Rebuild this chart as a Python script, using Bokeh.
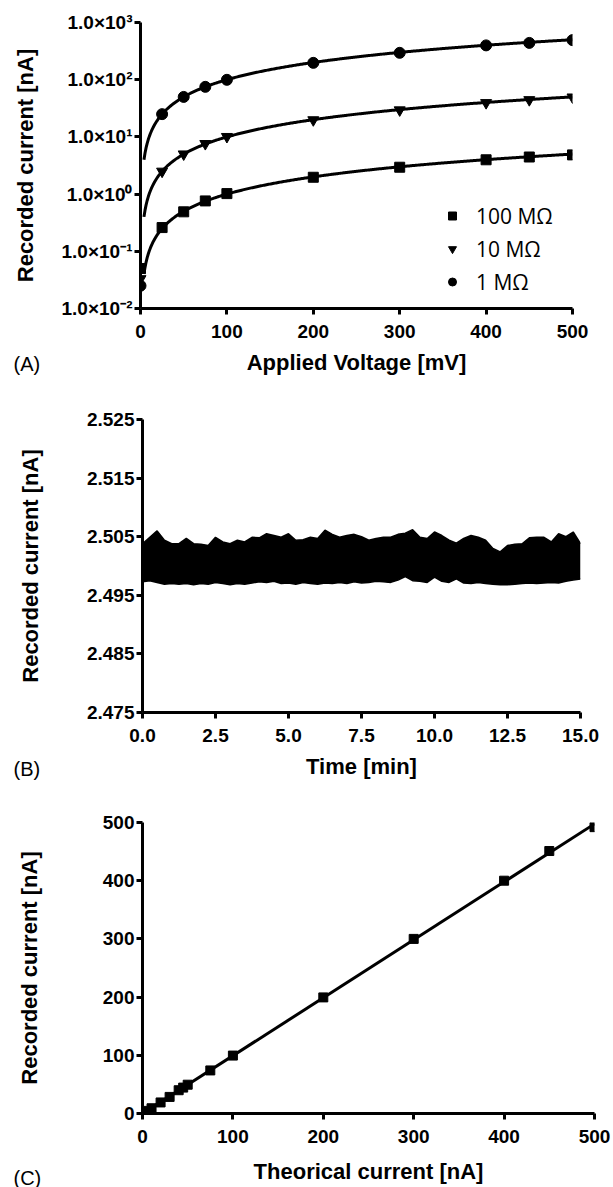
from bokeh.plotting import figure
from bokeh.layouts import column
from bokeh.models import (Range1d, FixedTicker, Label, Legend, LegendItem,
                          NumeralTickFormatter, ColumnDataSource)
from bokeh.embed import file_html
from bokeh.resources import INLINE
import numpy as np

FONT = "Liberation Sans"

# ---------------- Panel A data ----------------
voltage_mv = [0, 25, 50, 75, 100, 200, 300, 400, 450, 500]
current_100M = [0.05, 0.26, 0.49, 0.76, 1.02, 1.97, 2.95, 3.98, 4.45, 4.85]
current_10M = [0.033, 2.5, 5.0, 7.6, 10.1, 19.8, 29.5, 39.5, 44.5, 49.5]
current_1M = [0.025, 25.0, 50.0, 75.0, 99.5, 197.0, 295.0, 398.0, 440.0, 492.0]
resistances_mohm = [100, 10, 1]
legend_labels = ["100 MΩ", "10 MΩ", "1 MΩ"]
a_yticks = [0.01, 0.1, 1, 10, 100, 1000]
a_ytick_labels = ["1.0×10⁻²", "1.0×10⁻¹", "1.0×10⁰", "1.0×10¹", "1.0×10²", "1.0×10³"]
a_xticks = [0, 100, 200, 300, 400, 500]

# ---------------- Panel B data (envelope of the recorded trace) ----------------
time_min = [0, 0.25, 0.5, 0.75, 1.0, 1.25, 1.5, 1.75, 2.0, 2.25, 2.5, 2.75, 3.0, 3.25,
            3.5, 3.75, 4.0, 4.25, 4.5, 4.75, 5.0, 5.25, 5.5, 5.75, 6.0, 6.25, 6.5,
            6.75, 7.0, 7.25, 7.5, 7.75, 8.0, 8.25, 8.5, 8.75, 9.0, 9.25, 9.5, 9.75,
            10.0, 10.25, 10.5, 10.75, 11.0, 11.25, 11.5, 11.75, 12.0, 12.25, 12.5,
            12.75, 13.0, 13.25, 13.5, 13.75, 14.0, 14.25, 14.5, 14.75, 15.0]
trace_upper = [2.5038, 2.5049, 2.5060, 2.5044, 2.5038, 2.5038, 2.5047, 2.5038, 2.5037,
               2.5035, 2.5049, 2.5041, 2.5038, 2.5044, 2.5041, 2.5049, 2.5048, 2.5055,
               2.5052, 2.5049, 2.5055, 2.5044, 2.5045, 2.5049, 2.5047, 2.5061, 2.5054,
               2.5049, 2.5052, 2.5054, 2.5050, 2.5044, 2.5047, 2.5049, 2.5049, 2.5054,
               2.5056, 2.5062, 2.5049, 2.5047, 2.5058, 2.5052, 2.5044, 2.5039, 2.5047,
               2.5052, 2.5049, 2.5044, 2.5030, 2.5024, 2.5035, 2.5037, 2.5038, 2.5048,
               2.5049, 2.5049, 2.5041, 2.5055, 2.5050, 2.5058, 2.5038]
trace_lower = [2.4973, 2.4975, 2.4972, 2.4969, 2.4970, 2.4969, 2.4970, 2.4968, 2.4970,
               2.4969, 2.4972, 2.4970, 2.4968, 2.4970, 2.4969, 2.4971, 2.4973, 2.4972,
               2.4974, 2.4970, 2.4971, 2.4969, 2.4972, 2.4970, 2.4969, 2.4971, 2.4970,
               2.4972, 2.4970, 2.4973, 2.4971, 2.4972, 2.4974, 2.4973, 2.4972, 2.4976,
               2.4982, 2.4975, 2.4974, 2.4972, 2.4981, 2.4974, 2.4972, 2.4978, 2.4971,
               2.4970, 2.4972, 2.4970, 2.4969, 2.4968, 2.4968, 2.4969, 2.4970, 2.4971,
               2.4970, 2.4971, 2.4972, 2.4971, 2.4974, 2.4976, 2.4978]
b_xticks = [0, 2.5, 5, 7.5, 10, 12.5, 15]
b_yticks = [2.475, 2.485, 2.495, 2.505, 2.515, 2.525]

# ---------------- Panel C data ----------------
theorical_na = [0, 5, 10, 20, 30, 40, 45, 50, 75, 100, 200, 300, 400, 450, 500]
recorded_na = [0.3, 4.5, 9.0, 19.0, 28.5, 40.0, 44.5, 49.5, 74.0, 99.5, 199.5, 300.0,
               400.0, 451.0, 492.0]
c_ticks = [0, 100, 200, 300, 400, 500]


def style(p, ylabel_standoff, xlabel_standoff=9):
    for ax in list(p.xaxis) + list(p.yaxis):
        ax.axis_line_width = 3
        ax.axis_line_color = "black"
        ax.major_tick_line_width = 3
        ax.major_tick_line_color = "black"
        ax.major_tick_out = 6
        ax.major_tick_in = 0
        ax.minor_tick_out = 0
        ax.minor_tick_in = 0
        ax.major_label_text_font = FONT
        ax.major_label_text_font_style = "bold"
        ax.major_label_text_font_size = "19px"
        ax.major_label_text_color = "black"
        ax.axis_label_text_font = FONT
        ax.axis_label_text_font_style = "bold"
        ax.axis_label_text_font_size = "22px"
        ax.axis_label_text_color = "black"
    for ax in p.yaxis:
        ax.major_label_standoff = 2
        ax.axis_label_standoff = ylabel_standoff
    for ax in p.xaxis:
        ax.major_label_standoff = 10
        ax.axis_label_standoff = xlabel_standoff
    p.xgrid.visible = False
    p.ygrid.visible = False
    p.outline_line_color = None


def panel_label(p, text, dx, dy):
    # placed in the (small) top side panel so it is not clipped to the plot frame
    p.add_layout(Label(x=dx, y=dy, x_units="screen", y_units="screen", text=text,
                       text_font=FONT, text_font_size="20px", text_color="black",
                       text_baseline="middle", text_align="left"), "above")


W = 613

# ---------------- Panel A ----------------
pA = figure(width=W, height=385, output_backend="svg", toolbar_location=None,
            y_axis_type="log", x_range=Range1d(0, 500), y_range=Range1d(0.01, 1000),
            min_border_left=140, min_border_right=41, min_border_top=22,
            min_border_bottom=77, frame_align=False)
style(pA, 21)
pA.xaxis.ticker = FixedTicker(ticks=a_xticks)
pA.yaxis.ticker = FixedTicker(ticks=a_yticks)
pA.yaxis.major_label_overrides = {t: s for t, s in zip(a_yticks, a_ytick_labels)}
pA.xaxis.axis_label = "Applied Voltage [mV]"
pA.yaxis.axis_label = "Recorded current [nA]"

v_fit = np.linspace(4, 500, 400)
for r in resistances_mohm:
    pA.line(v_fit, v_fit / r, line_color="black", line_width=3)

r_sq = pA.scatter(voltage_mv, current_100M, marker="square", size=10, color="black")
r_tri = pA.scatter(voltage_mv, current_10M, marker="inverted_triangle", size=11, color="black")
r_cir = pA.scatter(voltage_mv, current_1M, marker="circle", size=11, color="black")

legA = Legend(items=[LegendItem(label=legend_labels[0], renderers=[r_sq]),
                     LegendItem(label=legend_labels[1], renderers=[r_tri]),
                     LegendItem(label=legend_labels[2], renderers=[r_cir])],
              location=(302, 10), border_line_color=None, background_fill_alpha=0,
              padding=0, margin=0, spacing=0, glyph_height=33, label_height=33,
              glyph_width=20, label_standoff=14, label_text_font="Open Sans",
              label_text_font_size="21px", label_text_color="black")
pA.add_layout(legA)
panel_label(pA, "(A)", -127, -341)

# ---------------- Panel B ----------------
pB = figure(width=W, height=410, output_backend="svg", toolbar_location=None,
            x_range=Range1d(0, 15), y_range=Range1d(2.475, 2.525),
            min_border_left=142, min_border_right=33, min_border_top=34,
            min_border_bottom=83, frame_align=False)
style(pB, 41)
pB.xaxis.ticker = FixedTicker(ticks=b_xticks)
pB.yaxis.ticker = FixedTicker(ticks=b_yticks)
pB.xaxis.formatter = NumeralTickFormatter(format="0.0")
pB.yaxis.formatter = NumeralTickFormatter(format="0.000")
pB.xaxis.axis_label = "Time [min]"
pB.yaxis.axis_label = "Recorded current [nA]"
srcB = ColumnDataSource(dict(t=time_min, lo=trace_lower, hi=trace_upper))
pB.varea(x="t", y1="lo", y2="hi", source=srcB, fill_color="black")
pB.line(x="t", y="hi", source=srcB, line_color="black", line_width=1.5)
pB.line(x="t", y="lo", source=srcB, line_color="black", line_width=1.5)
panel_label(pB, "(B)", -129, -349)

# ---------------- Panel C ----------------
pC = figure(width=W, height=392, output_backend="svg", toolbar_location=None,
            x_range=Range1d(0, 500), y_range=Range1d(0, 500),
            min_border_left=142, min_border_right=19, min_border_top=27,
            min_border_bottom=74, frame_align=False)
style(pC, 58, 13)
pC.xaxis.ticker = FixedTicker(ticks=c_ticks)
pC.yaxis.ticker = FixedTicker(ticks=c_ticks)
pC.xaxis.axis_label = "Theorical current [nA]"
pC.yaxis.axis_label = "Recorded current [nA]"
slope, intercept = np.polyfit(theorical_na, recorded_na, 1)
x_line = np.array([min(theorical_na), max(theorical_na)])
pC.line(x_line, slope * x_line + intercept, line_color="black", line_width=3)
pC.scatter(theorical_na, recorded_na, marker="square", size=9, color="black")
panel_label(pC, "(C)", -129, -355)

layout = column(pA, pB, pC, spacing=0)
open("out.html", "w").write(file_html(layout, INLINE))
